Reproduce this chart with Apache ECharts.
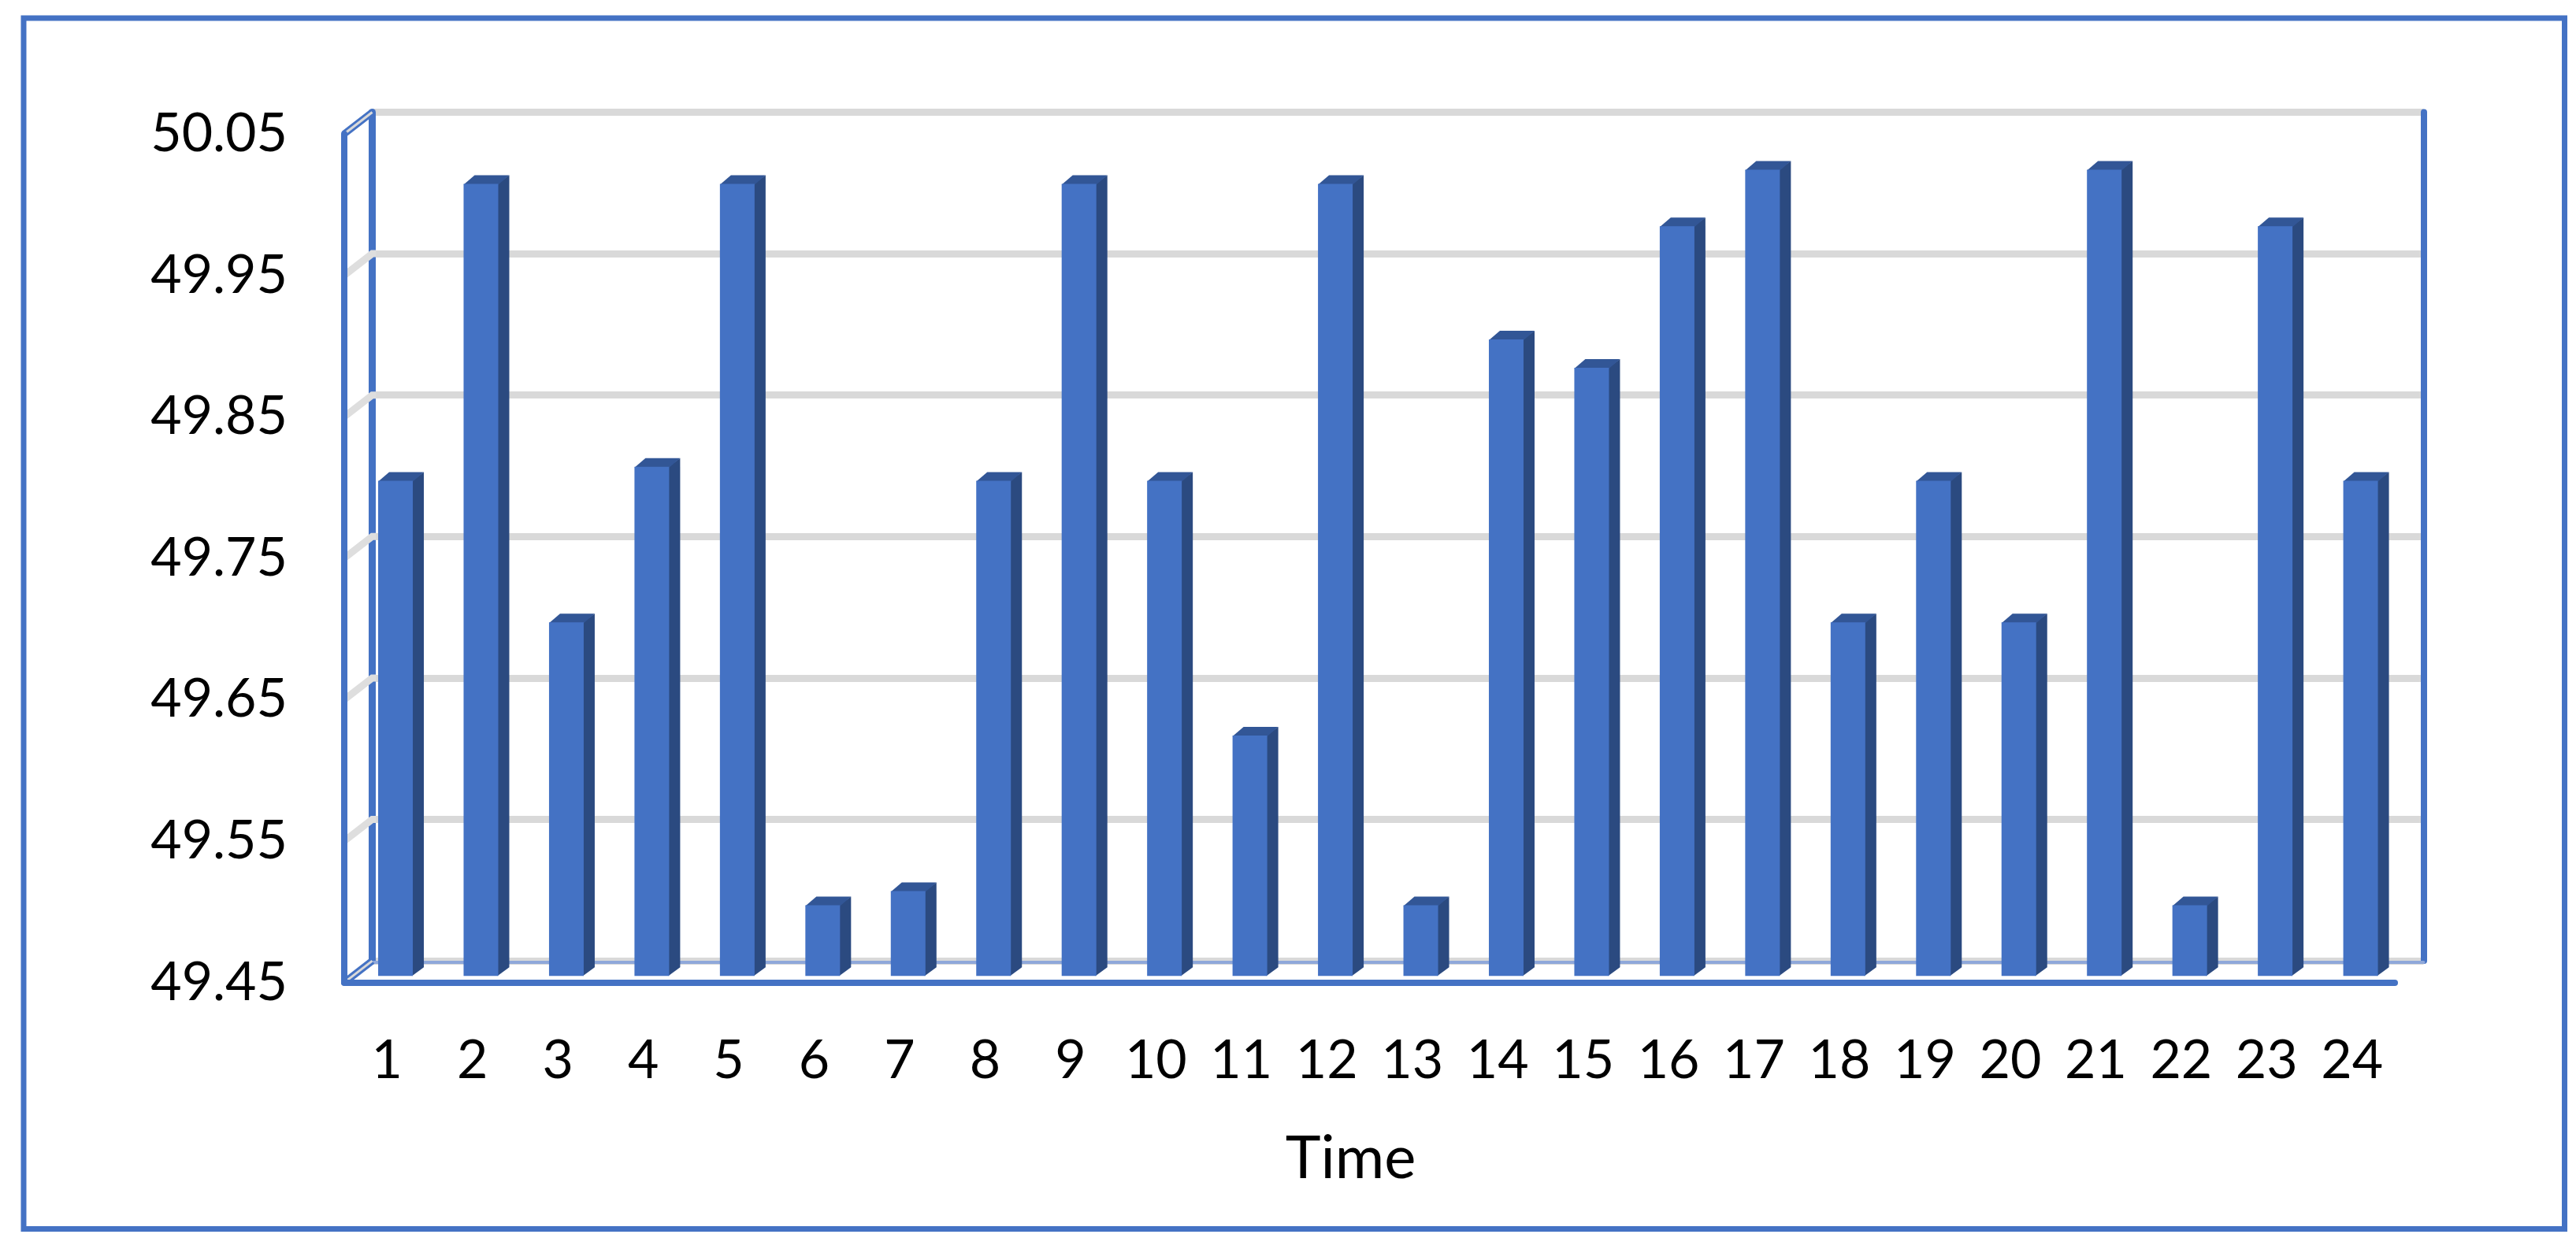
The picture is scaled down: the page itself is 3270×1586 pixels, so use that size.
<!DOCTYPE html>
<html>
<head>
<meta charset="utf-8">
<style>html,body{margin:0;padding:0;background:#fff}#c{width:3270px;height:1586px}</style>
<script src="https://cdn.jsdelivr.net/npm/echarts@6/dist/echarts.min.js"></script>
</head>
<body>
<div id="c"></div>
<script>
const categories = ['1','2','3','4','5','6','7','8','9','10','11','12','13','14','15','16','17','18','19','20','21','22','23','24'];
const values = [49.80,50.01,49.70,49.81,50.01,49.50,49.51,49.80,50.01,49.80,49.62,50.01,49.50,49.90,49.88,49.98,50.02,49.70,49.80,49.70,50.02,49.50,49.98,49.80];
const yTicks = [49.45,49.55,49.65,49.75,49.85,49.95,50.05];
const xName = 'Time';
const yMin = 49.45, yMax = 50.05;

const BLUE='#4472c4', SIDE='#2b4a80', TOP='#325696', GRID='#d9d9d9', FONT='Lato';
const DX=14, DY=-11, HALF=22;       // bar extrusion
const WX=35.5, WY=-27.5;            // depth of the side wall

const chart = echarts.init(document.getElementById('c'), null, {renderer:'canvas', width:3270, height:1586});

const hiddenY = i => ({type:'value',gridIndex:i,min:yMin,max:yMax,show:false,splitLine:{show:false}});
const hiddenX = i => ({type:'category',gridIndex:i,data:categories,show:false});

chart.setOption({
  animation:false,
  backgroundColor:'#ffffff',
  graphic:[{type:'rect',silent:true,shape:{x:30,y:23,width:3225.5,height:1537.5},style:{fill:'none',stroke:BLUE,lineWidth:7,lineJoin:'miter'}}],
  grid:[
    {left:472.5,top:142.4,width:2604,height:1077.6},
    {left:437,top:170,width:2603,height:1077.6},
    {left:447.8,top:161.6,width:2603,height:1077.6}
  ],
  xAxis:[
    {type:'category',gridIndex:0,data:categories,offset:2,
     axisLine:{show:true,lineStyle:{color:'#8fa8da',width:4}},axisTick:{show:false},axisLabel:{show:false},splitLine:{show:false}},
    {type:'category',gridIndex:1,data:categories,name:xName,nameLocation:'middle',nameGap:186,z:4,
     nameTextStyle:{fontFamily:FONT,fontSize:76,color:'#000',padding:[0,48,0,0]},
     axisLine:{show:true,lineStyle:{color:BLUE,width:8,cap:'round'}},axisTick:{show:false},
     axisLabel:{interval:0,margin:65,fontFamily:FONT,fontSize:68,color:'#000'},splitLine:{show:false}},
    hiddenX(2)
  ],
  yAxis:[
    {type:'value',gridIndex:0,min:yMin,max:yMax,position:'left',
     axisLine:{show:true,lineStyle:{color:BLUE,width:9}},axisTick:{show:false,customValues:yTicks},axisLabel:{show:false,customValues:yTicks},
     splitLine:{show:true,lineStyle:{color:GRID,width:9}}},
    {type:'value',gridIndex:0,min:yMin,max:yMax,position:'right',
     axisLine:{show:true,lineStyle:{color:BLUE,width:8}},axisTick:{show:false,customValues:yTicks},axisLabel:{show:false,customValues:yTicks},splitLine:{show:false}},
    {type:'value',gridIndex:1,min:yMin,max:yMax,z:4,
     axisLine:{show:true,lineStyle:{color:BLUE,width:8,cap:'round'}},axisTick:{show:false,customValues:yTicks},
     axisLabel:{customValues:yTicks,margin:72,padding:[9,0,0,0],fontFamily:FONT,fontSize:68,color:'#000',formatter:v=>v.toFixed(2)},splitLine:{show:false}},
    hiddenY(2)
  ],
  series:[
    {type:'custom',xAxisIndex:1,yAxisIndex:2,silent:true,z:1,clip:false,
     data:yTicks.map(v=>[0,v]),
     renderItem(params,api){
       const v=api.value(1), x=params.coordSys.x, y=api.coord([0,v])[1];
       if(v===yMin||v===yMax){
         const seg={x1:x,y1:y,x2:x+WX,y2:y+WY};
         return {type:'group',children:[
           {type:'line',shape:seg,style:{stroke:BLUE,lineWidth:9}},
           {type:'line',shape:seg,style:{stroke:'#d9d9d9',lineWidth:3}}
         ]};
       }
       return {type:'polyline',shape:{points:[[x,y],[x+WX,y+WY],[x+WX+5,y+WY]]},style:{fill:'none',stroke:'#dedede',lineWidth:9}};
     }},
    {type:'bar',xAxisIndex:2,yAxisIndex:3,data:values,barWidth:HALF*2,silent:true,z:3,itemStyle:{color:BLUE}},
    {type:'custom',xAxisIndex:2,yAxisIndex:3,silent:true,z:2,clip:false,
     data:values.map((v,i)=>[i,v]),
     renderItem(params,api){
       const i=api.value(0), top=api.coord([i,api.value(1)]), base=api.coord([i,yMin]);
       const r=top[0]+HALF, l=top[0]-HALF;
       return {type:'group',children:[
         {type:'polygon',shape:{points:[[r-1,top[1]],[r+DX,top[1]+DY],[r+DX,base[1]+DY],[r-1,base[1]]]},style:{fill:SIDE}},
         {type:'polygon',shape:{points:[[l,top[1]+1],[l+DX,top[1]+DY],[r+DX,top[1]+DY],[r,top[1]+1]]},style:{fill:TOP}}
       ]};
     }}
  ]
});
</script>
</body>
</html>
